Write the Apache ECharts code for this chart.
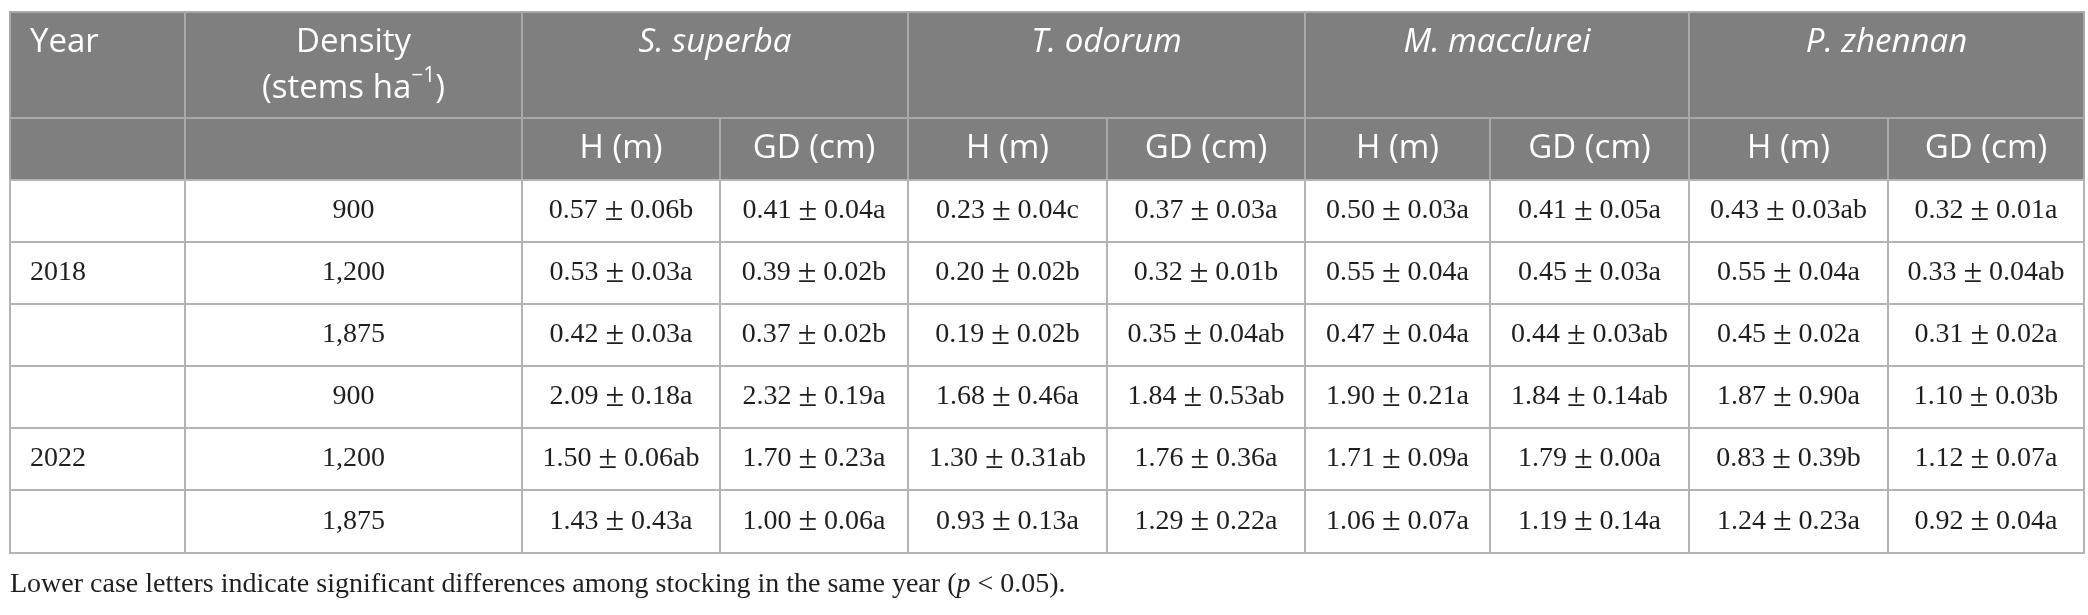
<!DOCTYPE html>
<html>
<head>
<meta charset="utf-8">
<script src="https://cdn.jsdelivr.net/npm/echarts@6/dist/echarts.min.js"></script>
<style>
  html, body { margin: 0; padding: 0; background: #fff; }
  #main { width: 2088px; height: 615px; }
</style>
</head>
<body>
<div id="main"></div>
<script>
const years = ['2018', '2022'];
const densities = ['900', '1,200', '1,875'];
const species = ['S. superba', 'T. odorum', 'M. macclurei', 'P. zhennan'];
const measures = ['H (m)', 'GD (cm)'];

// rows = density, columns = species x (H, GD)
const mean2018 = [
  [0.57, 0.41, 0.23, 0.37, 0.50, 0.41, 0.43, 0.32],
  [0.53, 0.39, 0.20, 0.32, 0.55, 0.45, 0.55, 0.33],
  [0.42, 0.37, 0.19, 0.35, 0.47, 0.44, 0.45, 0.31]
];
const se2018 = [
  [0.06, 0.04, 0.04, 0.03, 0.03, 0.05, 0.03, 0.01],
  [0.03, 0.02, 0.02, 0.01, 0.04, 0.03, 0.04, 0.04],
  [0.03, 0.02, 0.02, 0.04, 0.04, 0.03, 0.02, 0.02]
];
const sig2018 = [
  ['b', 'a', 'c', 'a', 'a', 'a', 'ab', 'a'],
  ['a', 'b', 'b', 'b', 'a', 'a', 'a', 'ab'],
  ['a', 'b', 'b', 'ab', 'a', 'ab', 'a', 'a']
];
const mean2022 = [
  [2.09, 2.32, 1.68, 1.84, 1.90, 1.84, 1.87, 1.10],
  [1.50, 1.70, 1.30, 1.76, 1.71, 1.79, 0.83, 1.12],
  [1.43, 1.00, 0.93, 1.29, 1.06, 1.19, 1.24, 0.92]
];
const se2022 = [
  [0.18, 0.19, 0.46, 0.53, 0.21, 0.14, 0.90, 0.03],
  [0.06, 0.23, 0.31, 0.36, 0.09, 0.00, 0.39, 0.07],
  [0.43, 0.06, 0.13, 0.22, 0.07, 0.14, 0.23, 0.04]
];
const sig2022 = [
  ['a', 'a', 'a', 'ab', 'a', 'ab', 'a', 'b'],
  ['ab', 'a', 'ab', 'a', 'a', 'a', 'b', 'a'],
  ['a', 'a', 'a', 'a', 'a', 'a', 'a', 'a']
];
const footnote = 'Lower case letters indicate significant differences among stocking in the same year ({i|p} < 0.05).';

// layout (px on a 2088 x 615 value grid)
const colX = [10, 185, 522, 720, 908, 1107, 1305, 1490, 1689, 1888, 2084];
const rowY = [12, 118, 180, 242, 304, 366, 428, 490, 553];

const headFont = '"Open Sans", sans-serif';
const bodyFont = '"Liberation Serif", "Times New Roman", serif';
const ink = '#1f1f1f';

// cell list: value = [col0, col1, row0, row1]
const cells = [];
function cell(c0, c1, r0, r1, text, kind) {
  cells.push({ value: [c0, c1, r0, r1], text: text, kind: kind });
}
cell(0, 1, 0, 1, 'Year', 'headLeft');
cell(1, 2, 0, 1, 'Density\n(stems ha{sup|\u22121})', 'density');
species.forEach((s, i) => cell(2 + 2 * i, 4 + 2 * i, 0, 1, s, 'species'));
cell(0, 1, 1, 2, '', 'head2');
cell(1, 2, 1, 2, '', 'head2');
species.forEach((s, i) => measures.forEach((m, j) => cell(2 + 2 * i + j, 3 + 2 * i + j, 1, 2, m, 'head2')));

const groups = [[mean2018, se2018, sig2018], [mean2022, se2022, sig2022]];
years.forEach((yr, g) => densities.forEach((d, k) => {
  const r = 2 + g * 3 + k;
  cell(0, 1, r, r + 1, k === 1 ? yr : '', 'yearCell');
  cell(1, 2, r, r + 1, d, 'body');
  groups[g][0][k].forEach((m, c) => {
    const txt = m.toFixed(2) + ' {pm|\u00b1} ' + groups[g][1][k][c].toFixed(2) + groups[g][2][k][c];
    cell(2 + c, 3 + c, r, r + 1, txt, 'body');
  });
}));

function renderCell(params, api) {
  const item = cells[params.dataIndex];
  const v = item.value;
  const p0 = api.coord([colX[v[0]], rowY[v[2]]]);
  const p1 = api.coord([colX[v[1]], rowY[v[3]]]);
  const x = p0[0], y = p0[1], w = p1[0] - p0[0], h = p1[1] - p0[1];
  const isHead = item.kind === 'headLeft' || item.kind === 'density' ||
    item.kind === 'species' || item.kind === 'head2';

  const rect = {
    type: 'rect',
    shape: { x: x, y: y, width: w, height: h },
    style: {
      fill: isHead ? '#7f7f7f' : '#ffffff',
      stroke: isHead ? '#a9a9a9' : '#b4b4b4',
      lineWidth: 2
    }
  };
  const ts = {
    text: item.text,
    fill: isHead ? '#ffffff' : ink,
    fontFamily: isHead ? headFont : bodyFont,
    fontSize: isHead ? 33 : 28,
    align: 'center',
    verticalAlign: 'middle',
    x: x + w / 2,
    y: y + h / 2
  };
  if (item.kind === 'headLeft') {
    ts.align = 'left';
    ts.x = x + 20;
    ts.y = y + 31;
  } else if (item.kind === 'species') {
    ts.fontStyle = 'italic';
    ts.y = y + 31;
  } else if (item.kind === 'density') {
    ts.y = y + 54;
    ts.lineHeight = 46;
    ts.rich = {
      sup: { fontFamily: headFont, fontSize: 21, fill: '#ffffff', verticalAlign: 'top', lineHeight: 26 }
    };
  } else if (item.kind === 'yearCell') {
    ts.align = 'left';
    ts.x = x + 20;
  } else if (item.kind === 'body') {
    ts.rich = {
      pm: { fontFamily: bodyFont, fontSize: 34, fill: ink }
    };
  }
  return {
    type: 'group',
    children: [rect, { type: 'text', style: ts, silent: true }]
  };
}

const chart = echarts.init(document.getElementById('main'), null, { renderer: 'canvas' });
chart.setOption({
  backgroundColor: '#ffffff',
  animation: false,
  grid: { left: 0, right: 0, top: 0, bottom: 0 },
  xAxis: { type: 'value', min: 0, max: 2088, show: false },
  yAxis: { type: 'value', min: 0, max: 615, inverse: true, show: false },
  series: [{
    type: 'custom',
    renderItem: renderCell,
    data: cells.map(c => c.value),
    silent: true
  }],
  graphic: [{
    type: 'text',
    left: 10,
    top: 571,
    style: {
      text: footnote,
      fill: ink,
      fontFamily: bodyFont,
      fontSize: 28,
      rich: {
        i: { fontFamily: bodyFont, fontSize: 28, fontStyle: 'italic', fill: ink }
      }
    }
  }]
});
</script>
</body>
</html>
